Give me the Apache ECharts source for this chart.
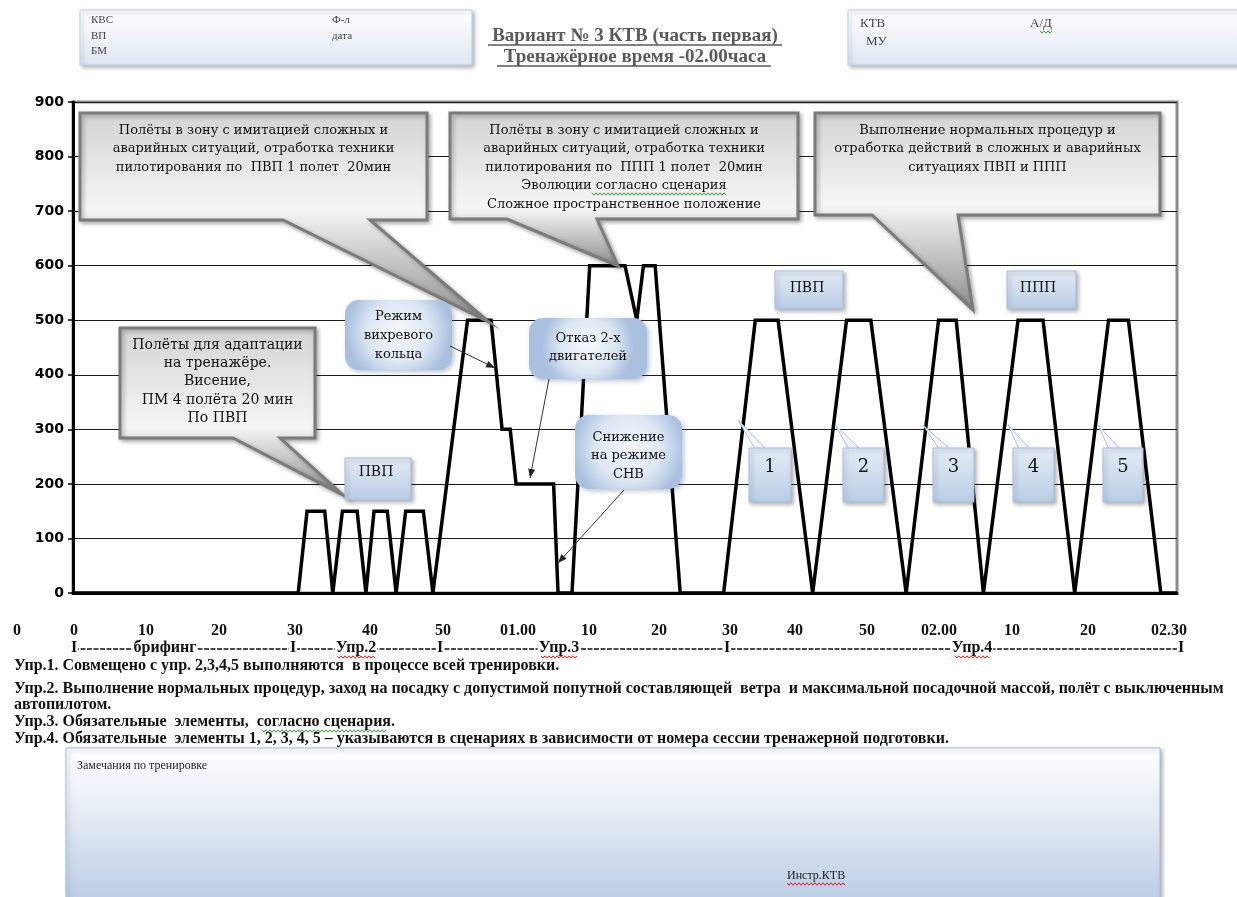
<!DOCTYPE html>
<html>
<head>
<meta charset="utf-8">
<script src="https://cdn.jsdelivr.net/npm/echarts@6/dist/echarts.min.js"></script>
<style>
  html, body { margin: 0; padding: 0; background: #fff; }
  #chart-box { width: 1237px; height: 897px; }
</style>
</head>
<body>
<div id="chart-box"></div>
<script>
// время от начала тренировки (мин) и высота полёта (м)
const minutes = [0, 30.6, 31.8, 34.2, 35.3, 36.6, 38.6, 39.8, 40.9, 42.7, 43.9, 45.2, 47.6, 48.9,
  53.6, 56.8, 58.3, 59.4, 60.2, 65.3, 65.9, 67.8, 70.2, 75.0, 76.6, 77.5, 79.1, 82.5,
  88.4, 92.7, 95.8, 100.5, 105.1, 108.4, 113.2, 117.6, 120.0, 123.7, 128.4, 131.8, 136.1,
  140.7, 143.4, 147.8, 150];
const altitude = [0, 0, 150, 150, 0, 150, 150, 0, 150, 150, 0, 150, 150, 0,
  500, 500, 300, 300, 200, 200, 0, 0, 600, 600, 500, 600, 600, 0,
  0, 500, 500, 0, 500, 500, 0, 500, 500, 0, 500, 500, 0,
  500, 500, 0, 0];

const timeLabels = ['0', '0', '10', '20', '30', '40', '50', '01.00', '10', '20', '30', '40', '50', '02.00', '10', '20', '02.30'];
const timeLabelX = [17, 74, 146, 219, 295, 370, 443, 518, 589, 659, 730, 795, 867, 939, 1012, 1088, 1169];

const phaseLabels = ['I', 'брифинг', 'I', 'Упр.2', 'I', 'Упр.3', 'I', 'Упр.4', 'I'];
const phaseX = [74, 165, 293, 356, 440, 559, 727, 972, 1181];

const notes = [
  'Упр.1. Совмещено с упр. 2,3,4,5 выполняются  в процессе всей тренировки.',
  'Упр.2. Выполнение нормальных процедур, заход на посадку с допустимой попутной составляющей  ветра  и максимальной посадочной массой, полёт с выключенным',
  'автопилотом.',
  'Упр.3. Обязательные  элементы,  согласно сценария.',
  'Упр.4. Обязательные  элементы 1, 2, 3, 4, 5 – указываются в сценариях в зависимости от номера сессии тренажерной подготовки.'
];
const notesY = [666, 689, 705, 722, 739];

const serif = '"DejaVu Serif", serif';
const docFont = '"Liberation Serif", "Times New Roman", serif';
const shadow = { shadowBlur: 4, shadowOffsetX: 2, shadowOffsetY: 2, shadowColor: 'rgba(0,0,0,0.3)' };

function grad(stops) {
  return new echarts.graphic.LinearGradient(0, 0, 0, 1, stops.map(s => ({ offset: s[0], color: s[1] })));
}

function text(x, y, str, font, extra) {
  return {
    type: 'text', z: 30, x, y,
    style: Object.assign({
      text: str, font, fill: '#111',
      textAlign: 'left', align: 'left',
      textVerticalAlign: 'middle', verticalAlign: 'middle'
    }, extra || {})
  };
}

// волнистое подчёркивание орфографии
function wavy(x1, x2, y, color) {
  const pts = [];
  for (let x = x1, k = 0; x <= x2; x += 2, k++) pts.push([x, y + (k % 2 ? 1.2 : -1.2)]);
  return { type: 'polyline', z: 31, shape: { points: pts }, style: { stroke: color, lineWidth: 1, fill: null } };
}

// серая выноска с хвостом снизу
function bubble(box, tail, lines, top, lh, size) {
  const [x0, y0, x1, y1] = box;
  const [b1, b2, tx, ty] = tail;
  const mid = (y1 - y0) / (ty - y0);
  return [{
    type: 'polygon', z: 20,
    shape: { points: [[x0, y0], [x1, y0], [x1, y1], [b2, y1], [tx, ty], [b1, y1], [x0, y1]] },
    style: Object.assign({
      fill: grad([[0, '#d3d3d3'], [mid * 0.9, '#f6f6f6'], [1, '#8c8c8c']]),
      stroke: '#7b7b7b', lineWidth: 3
    }, shadow)
  }, text((x0 + x1) / 2, top, lines.join('\n'), (size || 13) + 'px ' + serif,
    { textAlign: 'center', align: 'center', textVerticalAlign: 'top', verticalAlign: 'top', lineHeight: lh })];
}

// голубая скруглённая рамка
function roundBox(box, lines, top, lh) {
  const [x0, y0, x1, y1] = box;
  return [{
    type: 'rect', z: 20,
    shape: { x: x0, y: y0, width: x1 - x0, height: y1 - y0, r: 14 },
    style: Object.assign({
      fill: new echarts.graphic.RadialGradient(0.5, 0.45, 0.75, [
        { offset: 0, color: '#f5f8fc' }, { offset: 0.6, color: '#dde7f3' }, { offset: 1, color: '#a9c0df' }
      ])
    }, { shadowBlur: 5, shadowOffsetX: 2, shadowOffsetY: 2, shadowColor: 'rgba(60,80,120,0.35)' })
  }, text((x0 + x1) / 2, top, lines.join('\n'), '13px ' + serif,
    { textAlign: 'center', align: 'center', textVerticalAlign: 'top', verticalAlign: 'top', lineHeight: lh })];
}

function plainBox(box, str, tx, ty, size) {
  const [x0, y0, x1, y1] = box;
  return [{
    type: 'rect', z: 20,
    shape: { x: x0, y: y0, width: x1 - x0, height: y1 - y0 },
    style: Object.assign({
      fill: grad([[0, '#e4ecf6'], [1, '#b9cde6']]), stroke: '#a9c0de', lineWidth: 1
    }, shadow)
  }, text(tx, ty, str, size + 'px ' + serif, { textAlign: 'center', align: 'center' })];
}

function numBox(box, tip, str) {
  const [x0, y0, x1, y1] = box;
  return [{
    type: 'polygon', z: 19,
    shape: { points: [[x0 + 6, y0 + 1], tip, [x0 + 17, y0 + 1]] },
    style: { fill: '#f3f6fb', stroke: '#a9c0de', lineWidth: 1 }
  }].concat(plainBox(box, str, (x0 + x1) / 2, y0 + 19, 18));
}

function arrow(x1, y1, x2, y2) {
  const a = Math.atan2(y2 - y1, x2 - x1), L = 9, w = 3.5;
  return [{
    type: 'line', z: 25, shape: { x1, y1, x2, y2 }, style: { stroke: '#333', lineWidth: 1 }
  }, {
    type: 'polygon', z: 25,
    shape: { points: [[x2, y2],
      [x2 - L * Math.cos(a) + w * Math.sin(a), y2 - L * Math.sin(a) - w * Math.cos(a)],
      [x2 - L * Math.cos(a) - w * Math.sin(a), y2 - L * Math.sin(a) + w * Math.cos(a)]] },
    style: { fill: '#222' }
  }];
}

function panel(box, stops, stroke) {
  const [x0, y0, x1, y1] = box;
  return {
    type: 'rect', z: 5,
    shape: { x: x0, y: y0, width: x1 - x0, height: y1 - y0 },
    style: Object.assign({ fill: grad(stops), stroke, lineWidth: 1 }, shadow)
  };
}

let graphics = [];

// шапка
graphics.push(panel([80, 10, 472, 65], [[0, '#ffffff'], [1, '#dfe7f2']], '#c3d3e8'));
graphics.push(panel([848, 10, 1245, 65], [[0, '#ffffff'], [1, '#dfe7f2']], '#c3d3e8'));
[['КВС', 91, 20], ['ВП', 91, 36], ['БМ', 91, 51], ['Ф-л', 332, 20], ['дата', 332, 36]].forEach(t => {
  graphics.push(text(t[1], t[2], t[0], '11px ' + docFont, { fill: '#444' }));
});
[['КТВ', 860, 24], ['МУ', 866, 42], ['А/Д', 1030, 24]].forEach(t => {
  graphics.push(text(t[1], t[2], t[0], '13px ' + docFont, { fill: '#444' }));
});
graphics.push(wavy(1040, 1052, 32, '#3a9a3a'));
graphics.push(text(635, 36, 'Вариант № 3 КТВ (часть первая)', 'bold 19px ' + docFont, { fill: '#5a5a5a', textAlign: 'center', align: 'center' }));
graphics.push(text(635, 57, 'Тренажёрное время -02.00часа', 'bold 19px ' + docFont, { fill: '#5a5a5a', textAlign: 'center', align: 'center' }));
graphics.push({ type: 'line', z: 30, shape: { x1: 488, y1: 45, x2: 782, y2: 45 }, style: { stroke: '#5a5a5a', lineWidth: 1.5 } });
graphics.push({ type: 'line', z: 30, shape: { x1: 497, y1: 66, x2: 771, y2: 66 }, style: { stroke: '#5a5a5a', lineWidth: 1.5 } });

// выноски
graphics = graphics.concat(
  bubble([80, 113, 427, 220], [283, 370, 489, 322],
    ['Полёты в зону с имитацией сложных и', 'аварийных ситуаций, отработка техники', 'пилотирования по  ПВП 1 полет  20мин'], 121, 18.5),
  bubble([450, 113, 798, 219], [507, 597, 618, 266],
    ['Полёты в зону с имитацией сложных и', 'аварийных ситуаций, отработка техники', 'пилотирования по  ППП 1 полет  20мин', 'Эволюции согласно сценария', 'Сложное пространственное положение'], 121, 18.5),
  bubble([815, 113, 1160, 215], [872, 958, 973, 310],
    ['Выполнение нормальных процедур и', 'отработка действий в сложных и аварийных', 'ситуациях ПВП и ППП'], 121, 18.5),
  bubble([120, 328, 315, 438], [233, 280, 343, 495],
    ['Полёты для адаптации', 'на тренажёре.', 'Висение,', 'ПМ 4 полёта 20 мин', 'По ПВП'], 336, 18.3, 14),
  roundBox([345, 300, 452, 370], ['Режим', 'вихревого', 'кольца'], 307, 19),
  roundBox([529, 318, 647, 379], ['Отказ 2-х', 'двигателей'], 330, 18),
  roundBox([575, 415, 682, 489], ['Снижение', 'на режиме', 'СНВ'], 428, 18.5),
  arrow(450, 346, 495, 368),
  arrow(549, 379, 530, 478),
  arrow(624, 490, 558, 563),
  plainBox([345, 458, 411, 500], 'ПВП', 376, 472, 14),
  plainBox([775, 271, 843, 309], 'ПВП', 807, 288, 14),
  plainBox([1007, 271, 1076, 309], 'ППП', 1038, 288, 14),
  numBox([749, 448, 791, 502], [738, 420], '1'),
  numBox([843, 448, 884, 502], [835, 425], '2'),
  numBox([933, 448, 974, 502], [923, 425], '3'),
  numBox([1013, 448, 1054, 502], [1008, 425], '4'),
  numBox([1103, 448, 1143, 502], [1098, 425], '5')
);
graphics.push(wavy(592, 727, 194, '#3a9a3a'));

// шкала времени под графиком
timeLabels.forEach((t, i) => {
  graphics.push(text(timeLabelX[i], 631, t, 'bold 16px ' + docFont, { textAlign: 'center', align: 'center' }));
});
graphics.push({ type: 'line', z: 29, shape: { x1: 74, y1: 649, x2: 1181, y2: 649 }, style: { stroke: '#111', lineWidth: 1.5, lineDash: [5, 1.5] } });
phaseLabels.forEach((t, i) => {
  graphics.push(text(phaseX[i], 648, t, 'bold 16px ' + docFont, { textAlign: 'center', align: 'center', backgroundColor: '#fff', padding: [0, 1] }));
});
graphics.push(wavy(337, 376, 657, '#e0202a'));
graphics.push(wavy(541, 578, 657, '#e0202a'));
graphics.push(wavy(955, 990, 657, '#e0202a'));
notes.forEach((t, i) => {
  graphics.push(text(14, notesY[i], t, 'bold 16px ' + docFont));
});
graphics.push(wavy(262, 386, 731, '#3a9a3a'));

// замечания
graphics.push(panel([66, 748, 1160, 905], [[0, '#ffffff'], [0.45, '#e3eaf4'], [1, '#b8cbe4']], '#a9c0de'));
graphics.push(text(77, 766, 'Замечания по тренировке', '12px ' + docFont, { fill: '#222' }));
graphics.push(text(787, 876, 'Инстр.КТВ', '12px ' + docFont, { fill: '#222' }));
graphics.push(wavy(787, 845, 884, '#e0202a'));

const options = {
  backgroundColor: '#fff',
  animation: false,
  grid: {
    left: 73, right: 60, top: 102, bottom: 304,
    show: true, borderColor: '#8c8c8c', borderWidth: 3
  },
  xAxis: {
    type: 'value', min: 0, max: 150,
    axisLine: { show: true, lineStyle: { color: '#000', width: 3 } },
    axisTick: { show: false },
    axisLabel: { show: false },
    splitLine: { show: false }
  },
  yAxis: {
    type: 'value', min: 0, max: 900, interval: 100,
    axisLine: { show: true, lineStyle: { color: '#000', width: 3 } },
    axisTick: { show: true, length: 5, lineStyle: { color: '#000', width: 1.5 } },
    axisLabel: { margin: 9, color: '#000', fontWeight: 'bold', fontSize: 14, fontFamily: '"DejaVu Sans", sans-serif' },
    splitLine: { lineStyle: { color: '#1a1a1a', width: 1 } }
  },
  series: [{
    type: 'line',
    data: minutes.map((m, i) => [m, altitude[i]]),
    showSymbol: false,
    silent: true,
    lineStyle: { color: '#000', width: 3.5, join: 'miter' }
  }],
  graphic: graphics
};

const chart = echarts.init(document.getElementById('chart-box'));
chart.setOption(options);
</script>
</body>
</html>
